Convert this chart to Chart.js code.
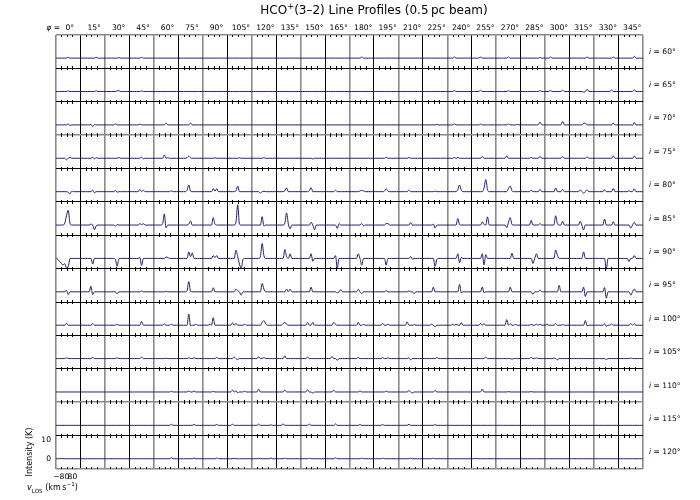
<!DOCTYPE html>
<html>
<head>
<meta charset="utf-8">
<script src="https://cdn.jsdelivr.net/npm/chart.js@4.4.1/dist/chart.umd.min.js"></script>
<style>
  body { margin: 0; background: #fff; font-family: "DejaVu Sans", sans-serif; }
  #wrap { position: relative; width: 700px; height: 500px; overflow: hidden; }
  #c { position: absolute; left: 0; top: 0; }
  .lbl { position: absolute; white-space: nowrap; color: #000; line-height: 1; }
  .tick { font-size: 7.6px; }
  .axl { font-size: 8px; }
  .ttl { font-size: 12px; }
  sub, sup { font-size: 70%; line-height: 0; }
</style>
</head>
<body>
<div id="wrap"><canvas id="c" width="700" height="500"></canvas></div>
<script>
// velocity samples of each profile (km/s)
var velocity = [-155,-130,-105,-80,-55,-30,-5,20,45,70,95,120,145,170,195];
var phiLabels = ['0°','15°','30°','45°','60°','75°','90°','105°','120°','135°','150°','165°',
                 '180°','195°','210°','225°','240°','255°','270°','285°','300°','315°','330°','345°'];
var incLabels = ['60°','65°','70°','75°','80°','85°','90°','95°','100°','105°','110°','115°','120°'];
var yTicks = [0, 10];
var xTicks = [-80, 80];

// intensity (K), one row per inclination, one profile per phi
var i60 = [
  [0,0,0,0,0,0,0,.5,0,0,0,0,0,0,0],
  [0,0,0,0,0,0,0,0,0,.5,0,0,0,0,0],
  [0,0,0,0,0,0,0,0,.3,0,0,0,0,0,0],
  [0,0,0,0,0,0,0,.4,0,0,0,0,0,0,0],
  [0,0,0,0,0,0,0,0,0,0,0,0,0,0,0],
  [0,0,0,0,0,0,0,0,0,0,0,0,0,0,0],
  [0,0,0,0,0,0,0,0,0,0,0,0,0,0,0],
  [0,0,0,0,0,0,0,0,0,0,0,0,0,0,0],
  [0,0,0,0,0,0,0,0,0,0,0,0,0,0,0],
  [0,0,0,0,0,0,0,0,0,0,0,0,0,0,0],
  [0,0,0,0,0,0,0,0,0,0,0,0,0,0,0],
  [0,0,0,0,0,0,0,0,0,0,0,0,0,0,0],
  [0,0,0,0,0,0,0,.6,0,0,0,0,0,0,0],
  [0,0,0,0,0,0,0,0,0,0,0,0,0,0,0],
  [0,0,0,0,0,0,0,0,0,0,0,0,0,0,0],
  [0,0,0,0,0,0,0,0,0,0,0,0,0,0,0],
  [0,0,0,0,.6,0,0,0,0,0,0,0,0,0,0],
  [0,0,0,0,0,.6,0,0,0,0,0,0,0,0,0],
  [0,0,0,0,0,0,0,.6,0,0,0,0,0,0,0],
  [0,0,0,0,0,0,0,0,0,0,0,.3,0,0,0],
  [0,0,0,.6,0,0,0,0,0,0,0,0,0,0,0],
  [0,0,0,0,0,0,0,0,0,0,.6,0,0,0,0],
  [0,0,0,0,0,0,0,0,0,0,0,.6,0,0,0],
  [0,0,0,0,0,0,0,0,0,1,0,0,0,0,0]
];
var i65 = [
  [0,0,0,0,0,0,0,.3,0,0,0,0,0,0,0],
  [0,0,0,0,0,0,0,0,0,.4,0,0,0,0,0],
  [0,0,0,0,0,0,0,.3,.5,0,0,0,0,0,0],
  [0,0,0,0,0,0,0,.3,0,0,0,0,0,0,0],
  [0,0,0,0,0,0,0,0,0,0,0,0,0,0,0],
  [0,0,0,0,0,0,0,0,0,0,0,0,0,0,0],
  [0,0,0,0,0,0,0,0,0,0,0,0,0,0,0],
  [0,0,0,0,0,0,0,0,0,0,0,0,0,0,0],
  [0,0,0,0,0,0,0,0,0,0,0,0,0,0,0],
  [0,0,0,0,0,0,0,0,0,0,0,0,0,0,0],
  [0,0,0,0,0,0,0,0,0,0,0,0,0,0,0],
  [0,0,0,0,0,0,0,0,0,0,0,0,0,0,0],
  [0,0,0,0,0,0,0,0,0,0,0,0,0,0,0],
  [0,0,0,0,0,0,0,0,0,0,0,0,0,0,0],
  [0,0,0,0,0,0,0,0,0,0,0,0,0,0,0],
  [0,0,0,0,0,0,0,0,0,0,0,0,0,0,0],
  [0,0,0,0,.5,0,0,0,0,0,0,0,0,0,0],
  [0,0,0,0,0,.6,0,0,0,0,0,0,0,0,0],
  [0,0,0,0,0,0,0,.4,0,0,0,0,0,0,0],
  [0,0,0,0,0,0,0,0,0,0,0,.6,0,0,0],
  [0,0,0,.5,0,0,0,0,0,0,.7,0,0,0,0],
  [0,0,0,0,0,0,0,0,-.3,0,1.2,0,0,0,0],
  [0,0,0,0,0,0,0,0,0,0,.8,0,0,0,0],
  [0,0,0,0,0,0,0,0,0,1,0,0,0,0,0]
];
var i70 = [
  [0,0,0,0,0,0,0,.5,-.3,0,0,0,0,0,0],
  [0,0,0,0,0,0,.3,-1,.3,0,0,0,0,0,0],
  [0,0,0,0,0,0,.5,0,0,0,0,0,0,0,0],
  [0,0,0,0,0,0,.4,0,0,0,0,0,0,0,0],
  [0,0,0,0,0,0,0,1,0,0,0,0,0,0,0],
  [0,0,0,0,0,0,0,1,0,0,0,0,0,0,0],
  [0,0,0,0,0,0,0,0,0,0,0,0,0,0,0],
  [0,0,0,0,0,0,0,0,0,0,0,0,0,0,0],
  [0,0,0,0,0,0,0,0,0,0,0,0,0,0,0],
  [0,0,0,0,0,0,0,0,0,0,0,0,0,0,0],
  [0,0,0,0,0,0,0,0,0,0,0,0,0,0,0],
  [0,0,0,0,0,0,0,0,0,0,0,0,0,0,0],
  [0,0,0,0,0,0,0,0,0,0,0,0,0,0,0],
  [0,0,0,0,0,0,0,0,0,0,0,0,0,0,0],
  [0,0,0,0,0,0,0,0,0,0,0,0,0,0,0],
  [0,0,0,0,0,0,0,0,.2,0,0,0,0,0,0],
  [0,0,0,0,.5,0,0,0,0,0,0,0,0,0,0],
  [0,0,0,0,0,.4,0,0,0,0,0,0,0,0,0],
  [0,0,0,0,0,0,0,.5,0,0,0,0,.3,0,0],
  [0,0,0,0,0,0,0,0,0,0,0,1.5,0,0,0],
  [0,0,0,0,0,0,0,0,0,0,1.8,0,0,0,0],
  [0,0,0,0,0,0,0,0,.8,1,0,0,0,0,0],
  [0,0,0,0,0,0,0,0,0,0,0,1,0,0,0],
  [0,0,0,0,0,0,0,0,-.3,1.3,0,0,0,0,0]
];
var i75 = [
  [0,0,0,0,0,0,-.8,0,.5,0,0,0,0,0,0],
  [0,0,0,0,0,0,0,.5,-.3,.3,0,0,0,0,0],
  [0,0,0,0,0,0,0,0,.4,0,0,0,0,0,0],
  [0,0,0,0,0,0,0,.6,-.3,0,0,0,0,0,0],
  [0,0,0,0,0,0,1.8,0,.3,0,0,0,0,0,0],
  [0,0,0,0,0,.4,1.2,.3,0,0,0,0,0,0,0],
  [0,0,0,0,0,0,0,.3,0,0,0,0,0,0,0],
  [0,0,0,0,0,0,0,.3,0,0,0,0,0,0,0],
  [0,0,0,0,0,0,0,.3,0,0,0,0,0,0,0],
  [0,0,0,0,0,0,0,0,0,0,0,0,0,0,0],
  [0,0,0,0,0,0,0,-.4,0,0,0,0,0,0,0],
  [0,0,0,0,0,0,0,0,0,0,0,0,0,0,0],
  [0,0,0,0,0,0,0,0,0,0,0,0,0,0,0],
  [0,0,0,0,0,0,0,.6,0,0,0,0,0,0,0],
  [0,0,0,0,0,0,.5,0,0,0,0,0,0,0,0],
  [0,0,0,0,0,0,0,0,0,0,0,0,0,0,0],
  [0,0,0,0,.4,0,.5,0,0,0,0,0,0,0,0],
  [0,0,0,0,0,0,1,0,0,0,0,0,0,0,0],
  [0,0,0,0,0,0,1.2,0,0,0,0,0,0,0,0],
  [0,0,0,0,0,0,.5,0,0,0,0,1,0,0,0],
  [0,0,0,0,0,0,0,0,0,0,.9,0,0,0,0],
  [0,0,0,0,0,0,0,0,0,0,.8,0,0,0,0],
  [0,0,0,0,0,0,0,0,0,0,0,1.2,0,0,0],
  [0,0,0,0,0,0,0,0,0,1.2,0,0,0,0,0]
];
var i80 = [
  [0,0,0,0,0,0,0,-.3,-1.2,.3,0,0,0,0,0],
  [0,0,0,0,0,0,0,.8,-.6,0,0,0,0,0,0],
  [0,0,0,0,0,0,.6,-.3,0,0,0,0,0,0,0],
  [0,0,0,0,0,0,1.2,0,.8,0,0,0,0,0,0],
  [0,0,0,0,0,0,0,0,0,0,.5,0,0,0,0],
  [0,0,0,0,0,.8,3.5,.3,0,0,0,0,0,0,0],
  [0,0,0,0,0,0,1.6,.3,1.6,0,0,0,0,0,0],
  [0,0,0,0,0,.5,3,0,0,0,0,0,0,0,0],
  [0,0,0,0,0,-.8,0,.2,0,0,0,0,0,0,0],
  [0,0,0,0,0,.5,2,0,0,0,0,0,0,0,0],
  [0,0,0,0,0,.5,2.2,0,0,0,0,0,0,0,0],
  [0,0,0,0,0,0,.8,0,0,0,0,0,0,0,0],
  [0,0,0,0,0,0,.4,.7,.4,0,0,0,0,0,0],
  [0,0,0,0,0,0,.3,1.6,.3,0,0,0,0,0,0],
  [0,0,0,0,0,0,.9,0,0,0,0,0,0,0,0],
  [0,0,0,0,0,0,0,.3,0,0,0,0,0,0,0],
  [0,0,0,0,0,0,1.2,3.5,.8,0,0,0,0,0,0],
  [0,0,0,0,0,0,0,2,6.5,1,0,0,0,0,0],
  [0,0,0,0,0,0,0,1.8,3,.5,0,0,0,0,0],
  [0,0,0,0,0,0,.8,0,0,0,0,1.2,0,0,0],
  [0,0,0,0,0,0,2,0,0,0,1.3,0,0,0,0],
  [0,0,0,0,0,0,1,0,-.8,0,1,0,0,0,0],
  [0,0,0,0,0,0,1,0,0,0,0,1.7,0,0,0],
  [0,0,0,0,0,0,.5,0,0,1.5,0,0,0,0,0]
];
var i85 = [
  [0,0,0,0,0,1,5,8,1,0,0,0,0,0,0],
  [0,0,0,0,0,0,.5,0,-2.5,-.5,0,0,0,0,0],
  [0,0,0,0,0,0,-.6,.3,0,0,0,0,0,0,0],
  [0,0,0,0,0,0,.8,.2,.7,0,0,0,0,0,0],
  [0,0,0,0,0,.5,6,-1.5,0,0,0,0,0,0,0],
  [0,0,0,0,0,0,.5,2.2,0,0,0,0,0,0,0],
  [0,0,0,0,0,0,4,.5,0,0,0,0,0,0,0],
  [0,0,0,0,0,1.5,10.9,.5,0,0,0,0,0,0,0],
  [0,0,0,0,0,0,4.5,-.5,0,0,0,0,0,0,0],
  [0,0,0,0,0,1,6.5,.5,-2,0,0,0,0,0,0],
  [0,0,0,0,0,0,1.5,0,-2.5,0,0,0,0,0,0],
  [0,0,0,0,0,0,0,-1.8,.8,0,0,0,0,0,0],
  [0,0,0,0,0,0,0,.8,-.3,0,0,0,0,0,0],
  [0,0,0,0,0,0,0,.8,.8,0,0,0,0,0,0],
  [0,0,0,0,0,0,0,1.3,0,0,0,0,0,0,0],
  [0,0,0,0,0,0,.5,-1.6,0,0,0,0,0,0,0],
  [0,0,0,0,0,0,3.5,.3,0,0,0,0,0,0,0],
  [0,0,0,0,0,0,1.8,.3,0,4.4,0,0,0,0,0],
  [0,0,0,0,0,0,-1.4,1.5,4,.3,0,0,0,0,0],
  [0,0,0,0,0,0,2.5,0,0,0,0,.8,0,0,0],
  [0,0,0,0,0,0,5,.8,0,0,2,0,0,0,0],
  [0,0,0,0,0,0,2,0,-2.6,0,0,0,0,0,0],
  [0,0,0,0,0,0,3.2,0,0,0,0,1.8,0,0,0],
  [0,0,0,0,0,0,0,-1.6,0,1.5,0,0,0,0,0]
];
var i90 = [
  [.5,-.5,-1.5,-2.5,-3.5,-2.8,-5,-4.5,0,0,0,0,0,0,0],
  [0,0,0,0,0,0,0,-3,0,0,0,0,0,0,0],
  [0,0,0,0,0,0,-.5,-4.2,-.3,0,0,0,0,0,0],
  [0,0,0,0,0,0,.5,-3.8,0,0,0,0,0,0,0],
  [0,0,0,0,0,0,0,.8,.5,0,0,0,0,0,0],
  [0,0,0,0,0,0,3.5,1,3,0,0,0,0,0,0],
  [0,0,0,0,0,0,1.5,.5,1.5,0,0,0,0,0,0],
  [0,0,0,0,0,4.5,1,-3,-5.5,-.5,0,0,0,0,0],
  [0,0,0,0,0,1,8,1.5,0,0,0,0,0,0,0],
  [0,0,0,0,0,4.8,1,0,2.5,0,0,0,0,0,0],
  [0,0,0,0,0,0,2.5,-1.5,0,0,0,0,0,0,0],
  [0,0,0,0,0,0,1.5,-5,0,0,0,0,0,0,0],
  [0,0,0,0,0,2.5,0,-3.7,0,0,0,0,0,0,0],
  [0,0,0,0,0,0,0,-3.6,0,0,0,0,0,0,0],
  [0,0,0,0,0,0,0,1,-.4,0,0,0,0,0,0],
  [0,0,0,0,0,0,0,-4.3,-.5,0,0,0,0,0,0],
  [0,0,0,0,0,0,2.5,-2.4,.5,0,0,0,0,0,0],
  [0,0,0,0,0,0,2.5,-3.5,2,0,0,0,0,0,0],
  [0,0,0,0,0,0,0,0,0,2.8,0,0,0,0,0],
  [0,0,0,0,0,0,0,-2.7,0,2.5,0,0,0,0,0],
  [0,0,0,0,0,0,4.5,1.7,0,0,0,0,0,0,0],
  [0,0,0,0,0,0,0,0,3.5,0,0,0,0,0,0],
  [0,0,0,0,0,0,0,-5.8,0,0,0,0,0,0,0],
  [0,0,0,0,0,0,-1.6,0,0,1.5,0,0,0,0,0]
];
var i95 = [
  [0,0,0,0,0,0,.8,-1.5,0,0,0,0,0,0,0],
  [0,0,0,0,0,0,3,-1.5,0,0,0,0,0,0,0],
  [0,0,0,0,0,0,0,-1,0,0,0,0,0,0,0],
  [0,0,0,0,0,0,0,.5,0,0,0,0,0,0,0],
  [0,0,0,0,0,0,0,.3,0,0,0,0,0,0,0],
  [0,0,0,0,0,.5,5.5,.3,0,0,0,0,0,0,0],
  [0,0,0,0,0,0,2.2,0,0,0,0,0,0,0,0],
  [0,0,0,0,0,1.5,.5,0,-1.8,0,0,0,0,0,0],
  [0,0,0,0,0,0,4.5,1.5,0,0,0,0,0,0,0],
  [0,0,0,0,0,0,1.5,0,1.5,0,0,0,0,0,0],
  [0,0,0,0,0,0,2.5,0,0,0,0,0,0,0,0],
  [0,0,0,0,0,0,0,-.5,0,1.2,0,0,0,0,0],
  [0,0,0,0,0,1.3,0,-1,0,0,0,0,0,0,0],
  [0,0,0,0,0,0,0,.6,0,0,0,0,0,0,0],
  [0,0,0,0,0,0,.5,0,0,-1,0,0,0,0,0],
  [0,0,0,0,0,0,2.5,0,0,0,0,0,0,0,0],
  [0,0,0,0,0,0,0,4,-.5,0,0,0,0,0,0],
  [0,0,0,0,0,0,2.6,-.5,0,0,0,0,0,0,0],
  [0,0,0,0,0,0,0,0,2.5,0,0,0,0,0,0],
  [0,0,0,0,0,0,0,-1.4,0,0,0,1,0,0,0],
  [0,0,0,0,0,0,0,0,3.5,0,0,0,0,0,0],
  [0,0,0,0,0,0,0,0,2.5,-2.5,0,0,0,0,0],
  [0,0,0,0,0,0,2.3,-3.4,0,0,0,0,0,0,0],
  [0,0,0,0,0,0,0,-1.8,0,1.5,0,0,0,0,0]
];
var i100 = [
  [0,0,0,0,0,0,1,0,0,0,0,0,0,0,0],
  [0,0,0,0,0,0,0,.8,0,0,0,0,0,0,0],
  [0,0,0,0,0,0,0,.5,0,0,0,0,0,0,0],
  [0,0,0,0,0,0,0,2,0,0,0,0,0,0,0],
  [0,0,0,0,0,0,.7,0,0,0,.5,0,0,0,0],
  [0,0,0,0,0,0,6,-.3,0,0,.5,0,0,0,0],
  [0,0,0,0,.5,0,4,0,0,0,0,0,0,0,0],
  [0,0,0,1.2,0,1,0,0,0,0,.5,0,0,0,0],
  [0,0,0,0,0,0,1.5,2.5,.8,0,0,0,0,0,0],
  [0,0,0,0,.8,1.5,.5,0,0,0,0,0,0,0,0],
  [0,0,0,0,1.5,0,0,1.5,0,0,0,0,0,0,0],
  [0,0,0,0,0,1.5,.5,0,0,0,0,0,0,0,0],
  [0,0,0,0,0,1.5,0,0,.4,0,0,0,0,0,0],
  [0,0,0,0,0,.9,0,0,.5,0,0,0,0,0,0],
  [0,0,0,0,0,1.8,0,0,0,.3,0,0,0,0,0],
  [0,0,0,0,0,.5,0,-.8,0,0,0,0,0,0,0],
  [0,0,0,.5,0,.5,0,0,1.3,0,0,0,0,0,0],
  [0,0,0,0,0,.9,0,.8,0,0,0,0,0,0,0],
  [0,0,0,0,0,0,3,0,.8,0,0,.4,0,0,0],
  [0,0,0,0,0,0,.5,0,0,.5,0,.5,0,0,0],
  [0,.6,0,0,0,0,.8,0,0,0,.3,0,0,0,0],
  [0,0,0,0,0,0,0,0,0,2.5,-.3,0,0,0,0],
  [0,0,0,0,0,0,.7,-.5,0,0,.6,0,0,0,0],
  [0,0,0,0,0,0,0,.8,0,.8,0,0,0,0,0]
];
var i105 = [
  [0,0,0,0,0,0,.4,0,0,0,0,0,0,0,0],
  [0,0,0,0,0,0,0,.6,0,0,0,0,0,0,0],
  [0,0,0,0,0,0,0,.4,0,0,0,0,0,0,0],
  [0,0,0,0,0,0,0,.8,0,0,0,0,0,0,0],
  [0,0,0,0,0,0,0,.2,0,0,0,0,0,0,0],
  [0,0,0,0,0,0,.4,0,0,.4,0,0,0,0,0],
  [0,0,0,0,0,0,0,0,.7,0,0,0,0,0,0],
  [0,0,0,0,.8,0,-.5,0,0,0,0,0,0,0,0],
  [0,0,0,0,1,0,0,.6,0,0,0,0,0,0,0],
  [0,0,0,0,0,1.5,0,0,0,0,0,0,0,0,0],
  [0,0,0,0,.8,0,0,0,0,0,0,0,0,0,0],
  [0,0,0,0,1.2,0,0,-.9,0,0,0,0,0,0,0],
  [0,0,0,0,0,.6,0,0,0,0,0,0,0,0,0],
  [0,0,0,0,0,.5,0,0,.4,0,0,0,0,0,0],
  [0,0,0,0,0,0,.5,-.7,0,0,0,0,0,0,0],
  [0,0,0,0,0,0,0,0,.6,0,0,0,0,0,0],
  [0,0,0,0,0,0,0,0,0,0,0,0,0,0,0],
  [0,0,0,0,0,0,0,0,.9,0,0,0,0,0,0],
  [0,0,0,0,0,0,0,0,0,-.3,0,0,0,0,0],
  [0,0,0,0,0,0,.7,0,0,.4,0,0,0,0,0],
  [0,0,0,0,0,.3,0,-.6,0,0,0,0,0,0,0],
  [0,0,0,0,0,0,0,0,0,0,0,0,0,0,0],
  [0,0,0,0,0,0,0,-.5,0,0,0,0,0,0,0],
  [0,0,0,0,0,0,0,.3,0,0,0,0,0,0,0]
];
var i110 = [
  [0,0,0,0,0,0,0,0,0,0,0,0,0,0,0],
  [0,0,0,0,0,0,0,0,0,0,0,0,0,0,0],
  [0,0,0,0,0,0,0,0,0,0,0,0,0,0,0],
  [0,0,0,0,0,0,0,0,0,0,0,0,0,0,0],
  [0,0,0,0,0,0,0,0,0,0,.3,0,0,0,0],
  [0,0,0,0,0,0,.5,0,0,.5,0,0,0,0,0],
  [0,0,0,0,0,0,.3,0,0,0,0,0,0,0,0],
  [0,0,0,1,0,.6,-.4,0,0,0,.4,0,0,0,0],
  [0,0,0,0,1.5,0,0,0,0,0,0,0,0,0,0],
  [0,0,0,0,0,1.1,0,0,0,0,0,0,0,0,0],
  [0,0,0,0,1.2,0,0,-.6,0,0,0,0,0,0,0],
  [0,0,0,0,0,1,0,0,0,0,0,0,0,0,0],
  [0,0,0,0,0,0,.6,0,0,0,0,0,0,0,0],
  [0,0,0,0,0,0,0,.5,0,0,0,0,0,0,0],
  [0,0,0,0,0,0,.7,0,-.5,0,0,0,0,0,0],
  [0,0,0,0,0,0,0,.8,0,0,0,0,0,0,0],
  [0,0,0,0,0,0,0,0,0,0,0,0,0,0,0],
  [0,0,0,0,0,0,1.6,0,0,0,0,0,0,0,0],
  [0,0,0,0,0,0,0,.2,0,0,0,0,0,0,0],
  [0,0,0,0,0,0,.2,0,0,0,0,0,0,0,0],
  [0,0,0,0,0,0,0,0,0,0,0,0,0,0,0],
  [0,0,0,0,0,0,0,0,0,0,0,0,0,0,0],
  [0,0,0,0,0,0,0,0,0,0,0,0,0,0,0],
  [0,0,0,0,0,0,0,0,0,0,0,0,0,0,0]
];
var i115 = [
  [0,0,0,0,0,0,0,0,0,0,0,0,0,0,0],
  [0,0,0,0,0,0,0,0,0,0,0,0,0,0,0],
  [0,0,0,0,0,0,0,0,0,0,0,0,0,0,0],
  [0,0,0,0,0,0,0,0,0,0,0,0,0,0,0],
  [0,0,0,0,0,0,0,0,0,0,.6,0,0,0,0],
  [0,0,0,0,0,0,0,0,0,.5,0,0,0,0,0],
  [0,0,0,0,0,0,0,0,.5,0,0,0,0,0,0],
  [0,0,0,.6,0,0,0,0,0,0,0,0,0,0,0],
  [0,0,0,0,.7,0,0,0,0,0,0,.3,0,0,0],
  [0,0,0,0,.8,0,0,0,0,0,0,0,0,0,0],
  [0,0,0,0,0,.7,0,0,0,0,0,0,0,0,0],
  [0,0,0,0,0,0,.8,0,0,0,0,0,0,0,0],
  [0,0,0,0,0,0,.4,0,0,0,0,0,0,0,0],
  [0,0,0,0,0,.4,0,0,0,0,0,0,0,0,0],
  [0,0,0,0,0,0,.6,0,0,0,0,0,0,0,0],
  [0,0,0,0,0,0,0,.4,0,0,0,0,0,0,0],
  [0,0,0,0,0,0,0,0,0,0,0,0,0,0,0],
  [0,0,0,0,0,0,0,0,0,0,0,0,0,0,0],
  [0,0,0,0,0,0,0,0,0,0,0,0,0,0,0],
  [0,0,0,0,0,0,0,0,0,0,0,0,0,0,0],
  [0,0,0,0,0,0,0,0,0,0,0,0,0,0,0],
  [0,0,0,0,0,0,0,0,0,0,0,0,0,0,0],
  [0,0,0,0,0,0,0,0,0,0,0,0,0,0,0],
  [0,0,0,0,0,0,0,0,0,0,0,0,0,0,0]
];
var i120 = [
  [0,0,0,.2,0,0,0,0,0,0,0,0,0,0,0],
  [0,0,0,0,0,0,0,0,0,0,0,0,0,0,0],
  [0,0,0,0,0,0,0,0,0,0,0,0,0,0,0],
  [0,0,0,0,0,0,0,0,0,0,0,0,0,0,0],
  [0,0,0,0,0,0,0,0,0,0,.5,0,0,0,0],
  [0,0,0,0,0,0,0,0,0,.4,0,0,0,0,0],
  [0,0,0,0,0,0,0,0,.4,0,0,0,0,0,0],
  [0,0,0,0,.2,0,0,0,0,0,0,0,0,0,0],
  [0,0,0,0,.2,0,0,0,0,0,0,.4,0,0,0],
  [0,0,0,0,0,.3,0,0,0,0,0,0,0,0,0],
  [0,0,0,0,0,.3,0,0,0,0,0,0,0,0,0],
  [0,0,0,0,0,0,.5,0,0,0,0,0,0,0,0],
  [0,0,0,0,0,0,0,.3,0,0,0,0,0,0,0],
  [0,0,0,0,0,.3,0,0,0,0,0,0,0,0,0],
  [0,0,0,0,0,0,0,.3,0,0,0,0,0,0,0],
  [0,0,0,0,0,0,.3,0,0,0,0,0,0,0,0],
  [0,0,0,0,0,0,0,0,0,0,0,0,0,0,0],
  [0,0,.2,0,0,0,0,0,0,0,0,0,0,0,0],
  [0,0,0,0,0,0,0,0,0,0,0,0,0,0,0],
  [0,0,0,0,0,0,0,0,0,0,0,0,0,0,0],
  [0,0,0,0,0,0,0,0,0,0,0,0,0,0,0],
  [0,0,0,0,0,0,0,0,0,0,0,0,0,0,0],
  [0,0,0,0,0,0,0,0,0,0,0,0,0,0,0],
  [0,0,0,0,0,0,0,0,0,0,0,0,0,0,0]
];
var rows = [i60, i65, i70, i75, i80, i85, i90, i95, i100, i105, i110, i115, i120];

// panel geometry in data units
var vMin = -155, vMax = 195, span = vMax - vMin;
var yLo = -5.5, yHi = 12.4, rowSpan = yHi - yLo;
var nCol = phiLabels.length, nRow = incLabels.length;
var tickVel = [-80, 0, 80];
var greyRows = [0, 2, 10, 13]; // boundaries drawn grey (counted from bottom)

var datasets = [];
rows.forEach(function(row, r) {
  var base = (nRow - 1 - r) * rowSpan - yLo;
  row.forEach(function(prof, c) {
    datasets.push({
      data: prof.map(function(val, k) { return { x: c * span + velocity[k] - vMin, y: base + val }; }),
      borderColor: '#1d1d6e',
      borderWidth: 1,
      pointRadius: 0,
      fill: false,
      cubicInterpolationMode: 'monotone'
    });
  });
});

var panelTicks = {
  id: 'panelTicks',
  afterDatasetsDraw: function(chart) {
    var ctx = chart.ctx, xs = chart.scales.x, ys = chart.scales.y;
    ctx.save();
    ctx.strokeStyle = '#000';
    ctx.lineWidth = 1;
    ctx.beginPath();
    for (var r = 0; r <= nRow; r++) {
      var py = Math.round(ys.getPixelForValue(r * rowSpan));
      var up = r > 0 ? 2 : 0;        // ticks of the panel below
      var down = r < nRow ? 2 : 0;   // ticks of the panel above
      for (var c = 0; c < nCol; c++) {
        tickVel.forEach(function(v) {
          var px = Math.round(xs.getPixelForValue(c * span + v - vMin)) + 0.5;
          ctx.moveTo(px, py - down);
          ctx.lineTo(px, py + up);
        });
      }
    }
    ctx.stroke();
    ctx.restore();
  }
};

var chart = new Chart(document.getElementById('c'), {
  type: 'line',
  data: { datasets: datasets },
  options: {
    responsive: false,
    animation: false,
    events: [],
    layout: { padding: { left: 56, right: 57, top: 35, bottom: 31 } },
    plugins: { legend: { display: false }, tooltip: { enabled: false } },
    scales: {
      x: {
        type: 'linear', min: 0, max: nCol * span,
        afterBuildTicks: function(s) {
          s.ticks = [];
          for (var i = 0; i <= nCol; i++) s.ticks.push({ value: i * span });
        },
        ticks: { display: false },
        border: { display: false },
        grid: {
          drawTicks: false,
          color: function(ctx) { return ctx.index % 2 ? '#000' : '#8a8a8a'; },
          lineWidth: function(ctx) { return ctx.index % 2 ? 1 : 1.6; }
        }
      },
      y: {
        type: 'linear', min: 0, max: nRow * rowSpan,
        afterBuildTicks: function(s) {
          s.ticks = [];
          for (var i = 0; i <= nRow; i++) s.ticks.push({ value: i * rowSpan });
        },
        ticks: { display: false },
        border: { display: false },
        grid: {
          drawTicks: false,
          color: function(ctx) { return greyRows.indexOf(ctx.index) >= 0 ? '#8a8a8a' : '#000'; },
          lineWidth: function(ctx) { return greyRows.indexOf(ctx.index) >= 0 ? 1.6 : 1; }
        }
      }
    }
  },
  plugins: [panelTicks]
});

// text, placed with the chart's own scales
var wrap = document.getElementById('wrap');
var xs = chart.scales.x, ys = chart.scales.y;
function addText(html, left, top, cls, transform) {
  var d = document.createElement('div');
  d.className = 'lbl ' + cls;
  d.innerHTML = html;
  d.style.left = left + 'px';
  d.style.top = top + 'px';
  if (transform) d.style.transform = transform;
  wrap.appendChild(d);
}
var top0 = chart.chartArea.top, left0 = chart.chartArea.left, right0 = chart.chartArea.right;

addText('HCO<sup>+</sup>(3–2) Line Profiles (0.5&#8201;pc beam)', 374, 4, 'ttl', 'translateX(-50%)');

addText('<i>φ</i> =', left0 + 4, top0 - 3, 'tick', 'translate(-100%,-100%)');
phiLabels.forEach(function(t, c) {
  addText(t, xs.getPixelForValue(c * span + span / 2) + 1.5, top0 - 3, 'tick', 'translate(-50%,-100%)');
});
incLabels.forEach(function(t, r) {
  var cy = ys.getPixelForValue((nRow - 1 - r) * rowSpan + rowSpan / 2);
  addText('<i>i</i> = ' + t, right0 + 6, cy, 'tick', 'translateY(-50%)');
});
yTicks.forEach(function(v) {
  addText(String(v), left0 - 5, ys.getPixelForValue(v - yLo), 'tick', 'translate(-100%,-50%)');
});
xTicks.forEach(function(v) {
  addText(String(v).replace('-', '−'), xs.getPixelForValue(v - vMin), ys.getPixelForValue(0) + 4, 'tick', 'translateX(-50%)');
});
addText('Intensity (K)', 30, ys.getPixelForValue(rowSpan / 2), 'axl', 'translate(-50%,-50%) rotate(-90deg)');
addText('<i>v</i><sub>LOS</sub> (km&#8201;s<sup>−1</sup>)', 27, 484, 'axl', '');
</script>
</body>
</html>
